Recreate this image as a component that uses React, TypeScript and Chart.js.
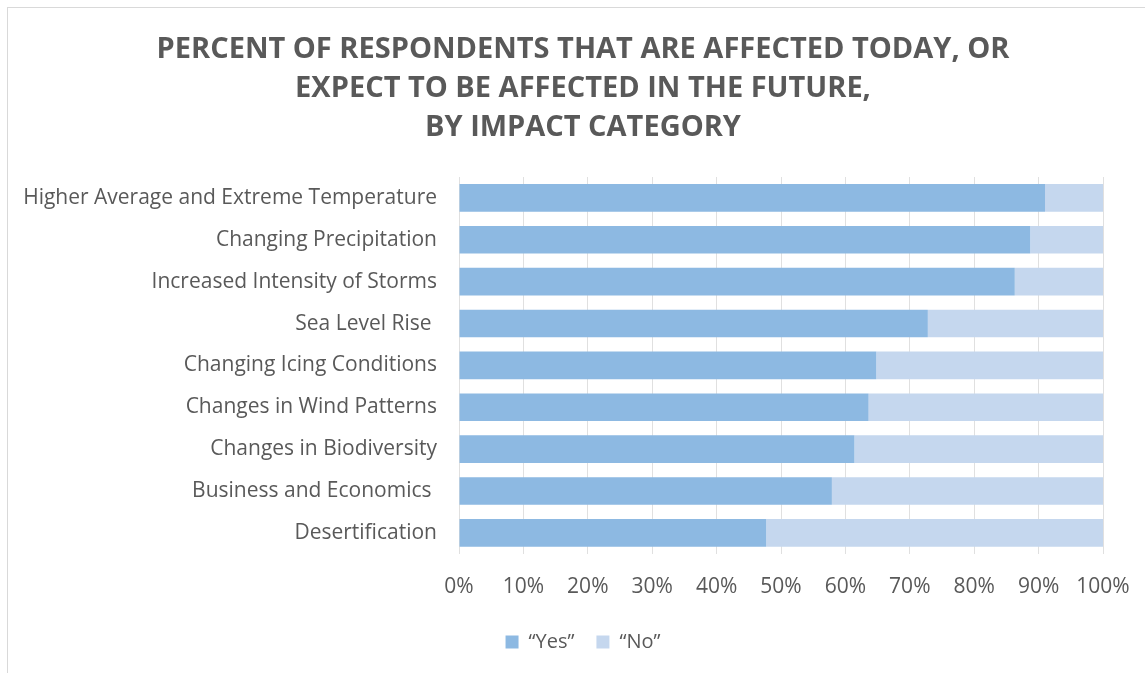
import React, { useEffect, useRef } from "react";
import { Chart, registerables } from "chart.js";

Chart.register(...registerables);

const categories = [
  "Higher Average and Extreme Temperature",
  "Changing Precipitation",
  "Increased Intensity of Storms",
  "Sea Level Rise ",
  "Changing Icing Conditions",
  "Changes in Wind Patterns",
  "Changes in Biodiversity",
  "Business and Economics ",
  "Desertification",
];

const yesValues = [91.0, 88.7, 86.3, 72.8, 64.8, 63.6, 61.4, 57.9, 47.7];
const noValues = [9.0, 11.3, 13.7, 27.2, 35.2, 36.4, 38.6, 42.1, 52.3];

const seriesLabels = ["\u201cYes\u201d", "\u201cNo\u201d"];

const titleLines = [
  "PERCENT OF RESPONDENTS THAT ARE AFFECTED TODAY, OR",
  "EXPECT TO BE AFFECTED IN THE FUTURE,",
  "BY IMPACT CATEGORY",
];

const xTickMin = 0;
const xTickMax = 100;
const xTickStep = 10;

const TEXT = "#595959";
const YES_COLOR = "#8DB9E2";
const NO_COLOR = "#C5D7EE";
const LABEL_FONT = "'Open Sans', 'Noto Sans', sans-serif";
const TITLE_FONT = "'Open Sans', sans-serif";

export default function App() {
  const canvasRef = useRef<HTMLCanvasElement | null>(null);

  useEffect(() => {
    if (!canvasRef.current) return;
    const chart = new Chart(canvasRef.current, {
      type: "bar",
      data: {
        labels: categories,
        datasets: [
          {
            label: seriesLabels[0],
            data: yesValues,
            backgroundColor: YES_COLOR,
            borderWidth: 0,
            barPercentage: 0.66,
            categoryPercentage: 1,
          },
          {
            label: seriesLabels[1],
            data: noValues,
            backgroundColor: NO_COLOR,
            borderWidth: 0,
            barPercentage: 0.66,
            categoryPercentage: 1,
          },
        ],
      },
      options: {
        indexAxis: "y",
        animation: false,
        responsive: false,
        maintainAspectRatio: false,
        layout: { padding: { left: 21, right: 0, top: 0, bottom: 11 } },
        plugins: {
          title: {
            display: true,
            text: titleLines,
            color: TEXT,
            font: { family: TITLE_FONT, size: 29, weight: "bold", lineHeight: "39px" },
            padding: { top: 30, bottom: 30 },
          },
          legend: {
            display: true,
            position: "bottom",
            labels: {
              boxWidth: 13,
              boxHeight: 13,
              color: TEXT,
              font: { family: LABEL_FONT, size: 20 },
              padding: 22,
            },
          },
          tooltip: { enabled: false },
        },
        scales: {
          x: {
            stacked: true,
            min: xTickMin,
            max: xTickMax,
            z: 1,
            ticks: {
              stepSize: xTickStep,
              color: TEXT,
              font: { family: LABEL_FONT, size: 21 },
              padding: 21,
              callback: (v: any) => v + "%",
            },
            grid: { color: "rgba(0,0,0,0.12)", drawTicks: false },
            border: { display: false },
            afterFit: (scale: any) => {
              scale.height = scale.height - 11;
              scale.paddingLeft = 0;
              scale.paddingRight = 0;
            },
          },
          y: {
            stacked: true,
            ticks: {
              color: TEXT,
              font: { family: LABEL_FONT, size: 21 },
              padding: 22,
            },
            grid: { display: false, drawTicks: false },
            border: { display: false },
            afterFit: (scale: any) => {
              scale.width = 438;
            },
          },
          yRightSpacer: {
            type: "linear",
            position: "right",
            display: true,
            ticks: { display: false },
            grid: { display: false, drawTicks: false },
            border: { display: false },
            afterFit: (scale: any) => {
              scale.width = 42;
            },
          },
        },
      },
    });
    return () => chart.destroy();
  }, []);

  return (
    <div
      style={{
        position: "fixed",
        left: 0,
        top: 0,
        width: 1145,
        height: 673,
        overflow: "hidden",
        background: "#fff",
      }}
    >
      <div
        style={{
          position: "absolute",
          left: 7,
          top: 7,
          width: 1200,
          height: 800,
          border: "1px solid #d9d9d9",
        }}
      />
      <canvas
        ref={canvasRef}
        width={1145}
        height={673}
        style={{ position: "absolute", left: 0, top: 0, width: 1145, height: 673 }}
      />
    </div>
  );
}
